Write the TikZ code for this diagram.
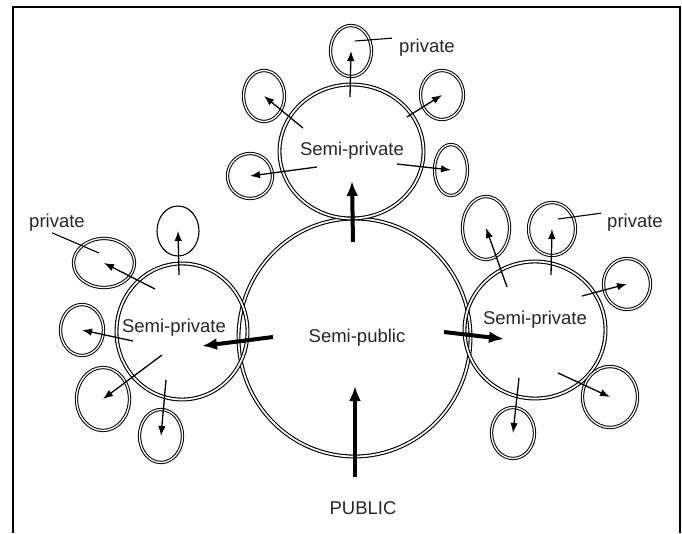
\documentclass[tikz,border=0pt]{standalone}
\usepackage{fontspec}
\setmainfont{Liberation Sans}
\usetikzlibrary{arrows.meta,shapes.geometric}

\tikzset{
  ring/.style={draw, double, double distance=1.3pt, line width=1pt, inner sep=0pt, ellipse},
  bigring/.style={ring, double distance=1.7pt, line width=1.1pt},
  lbl/.style={font=\fontsize{18.5}{21}\selectfont, inner sep=1pt, text=black!85},
  flow/.style={line width=1.3pt, -{Latex[length=10pt,width=7.5pt]}},
  mainflow/.style={line width=4pt, -{Latex[length=15pt,width=12pt]}},
  lead/.style={line width=1.1pt}
}

\begin{document}
\begin{tikzpicture}[x=1pt,y=-1pt]
  \useasboundingbox (0,0) rectangle (682,533);
  % Frame
  \draw[line width=2pt] (13,533) -- (13,6.5) -- (680,6.5) -- (680,533);

  % Semi-public and semi-private zones
  \node[bigring, minimum width=232pt, minimum height=238pt] (core) at (354.5,337.5) {};
  \node[bigring, minimum width=144pt, minimum height=134pt] (top) at (351.5,151.5) {};
  \node[bigring, minimum width=131pt, minimum height=136pt] (left) at (182,331.5) {};
  \node[bigring, minimum width=141pt, minimum height=137pt] (right) at (535,330) {};

  \node[lbl] (corelbl) at (357,338) {Semi-public};
  \node[lbl] (toplbl) at (352,151) {Semi-private};
  \node[lbl] (leftlbl) at (174,328) {Semi-private};
  \node[lbl] (rightlbl) at (535,320) {Semi-private};
  \node[lbl] (pub) at (363,508) {PUBLIC};

  % Private cells
  \foreach \n/\x/\y/\w/\h in {t1/351/51/41pt/51pt, t2/264/96/41pt/51pt,
      t3/442/95/43pt/49pt, t4/250/176/45pt/45pt, t5/451/170/33pt/51pt,
      l2/104/263/61pt/49pt, l3/82/330/43pt/51pt, l4/103/399/53pt/63pt,
      l5/161/436/43pt/53pt, r1/486/228/47pt/63pt, r2/552/229/47pt/53pt,
      r3/627/284/47pt/51pt, r4/610/397/55pt/61pt, r5/513/433/43pt/51pt}
    \node[ring, minimum width=\w, minimum height=\h] (\n) at (\x,\y) {};
  \node[draw, ellipse, line width=1.1pt, inner sep=0pt,
        minimum width=42pt, minimum height=50pt] (l1) at (178,231) {};

  % Paths into the private cells
  \foreach \n/\x/\y in {t1/350/97, t2/303/128, t3/407/117, t4/317/167,
      t5/397/164, l1/179/275, l2/155/289, l3/133/341, l4/162/355,
      l5/166/380, r1/507/287, r2/551/275, r3/582/296, r4/558/373,
      r5/519/378} {
    \coordinate (\n-from) at (\x,\y);
    \draw[flow] (\n-from) -- (\n.center);
  }

  % Main paths
  \coordinate (pubin) at (355,477);
  \coordinate (pubtip) at (355,386);
  \coordinate (upin) at (353,242);
  \coordinate (uptip) at (352,181);
  \coordinate (lin) at (273,337);
  \coordinate (ltip) at (202,346);
  \coordinate (rin) at (444,332);
  \coordinate (rtip) at (504,339);
  \draw[mainflow] (pubin) -- (pubtip);
  \draw[mainflow] (upin) -- (uptip);
  \draw[mainflow] (lin) -- (ltip);
  \draw[mainflow] (rin) -- (rtip);

  % Private labels
  \node[lbl] (ptop) at (427,48) {private};
  \node[lbl] (pleft) at (57,223) {private};
  \node[lbl] (pright) at (635,223) {private};
  \coordinate (ptop-pin) at (355,41);
  \coordinate (pleft-pin) at (99,253);
  \coordinate (pright-pin) at (558,219);
  \draw[lead] (ptop-pin) -- ([xshift=-6pt]ptop.north west);
  \draw[lead] (pleft-pin) -- ([xshift=-5pt]pleft.south);
  \draw[lead] (pright-pin) -- ([xshift=-5pt]pright.north west);
\end{tikzpicture}
\end{document}
